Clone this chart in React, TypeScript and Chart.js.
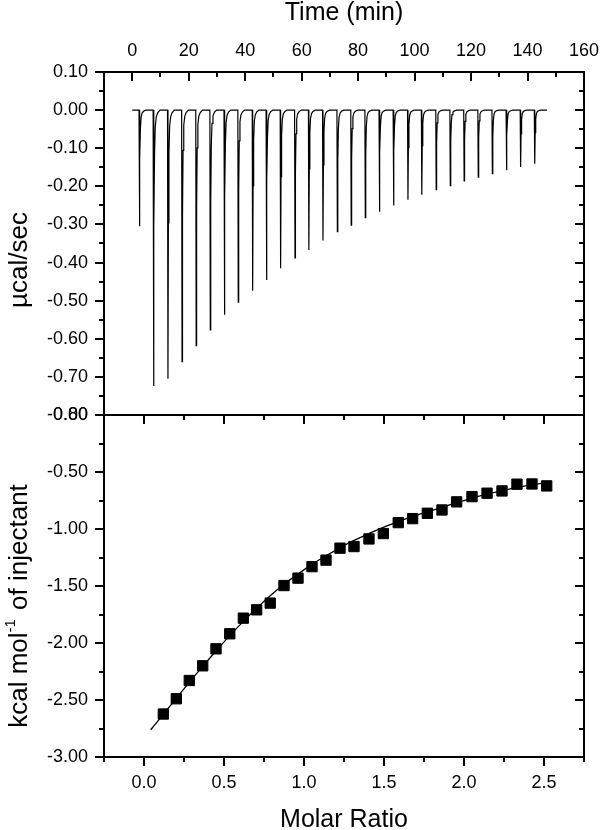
import React, { useEffect, useRef } from "react";
import { Chart, registerables } from "chart.js";

Chart.register(...registerables);

// ---------- Top panel: raw ITC thermogram ----------
const injectionTimes = [
  2.4, 7.4, 12.5, 17.5, 22.5, 27.5, 32.5, 37.4, 42.5, 47.4, 52.4, 57.5, 62.4, 67.4, 72.5,
  77.4, 82.4, 87.4, 92.4, 97.5, 102.4, 107.5, 112.5, 117.4, 122.4, 127.4, 132.4, 137.4, 142.4,
];
const peakHeights = [
  -0.305, -0.724, -0.705, -0.66, -0.618, -0.577, -0.537, -0.504, -0.474, -0.446, -0.415,
  -0.388, -0.367, -0.342, -0.319, -0.302, -0.282, -0.267, -0.25, -0.235, -0.222, -0.209,
  -0.198, -0.186, -0.176, -0.167, -0.158, -0.149, -0.141,
];
// shape of a single injection peak (minutes after injection, fraction of depth)
const peakOffsets = [0, 0.15, 0.3, 0.5, 0.75, 1.1, 1.6, 2.4];
const peakShape = [0, 1, 0.42, 0.16, 0.06, 0.025, 0.01, 0];
const traceStart = 0;
const traceEnd = 146.9;

// ---------- Bottom panel: integrated heats ----------
const molarRatio = [
  0.121, 0.202, 0.283, 0.367, 0.45, 0.536, 0.621, 0.704, 0.789, 0.875, 0.9625, 1.05, 1.1375,
  1.225, 1.3125, 1.406, 1.496, 1.589, 1.679, 1.771, 1.8625, 1.954, 2.05, 2.144, 2.2375, 2.331,
  2.425, 2.517,
];
const heatPerInjection = [
  -2.623, -2.489, -2.329, -2.2, -2.051, -1.919, -1.782, -1.709, -1.65, -1.496, -1.431, -1.33,
  -1.273, -1.168, -1.154, -1.087, -1.04, -0.944, -0.909, -0.862, -0.833, -0.762, -0.716,
  -0.686, -0.666, -0.607, -0.605, -0.622,
];
const fitRatio = [
  0.042, 0.121, 0.202, 0.283, 0.367, 0.45, 0.536, 0.621, 0.704, 0.789, 0.875, 0.9625, 1.05,
  1.1375, 1.225, 1.3125, 1.406, 1.496, 1.589, 1.679, 1.771, 1.8625, 1.954, 2.05, 2.144, 2.2375,
  2.331, 2.425, 2.517,
];
const fitHeat = [
  -2.761, -2.625, -2.485, -2.345, -2.205, -2.07, -1.935, -1.81, -1.695, -1.585, -1.485, -1.395,
  -1.31, -1.235, -1.165, -1.1, -1.04, -0.985, -0.935, -0.89, -0.85, -0.81, -0.768, -0.73,
  -0.695, -0.665, -0.635, -0.612, -0.595,
];

// ---------- Ticks ----------
const timeTicks = [0, 20, 40, 60, 80, 100, 120, 140, 160];
const timeTickLabels = ["0", "20", "40", "60", "80", "100", "120", "140", "160"];
const timeMinorTicks = [10, 30, 50, 70, 90, 110, 130, 150];
const rawTicks = [0.1, 0, -0.1, -0.2, -0.3, -0.4, -0.5, -0.6, -0.7, -0.8];
const rawTickLabels = ["0.10", "0.00", "-0.10", "-0.20", "-0.30", "-0.40", "-0.50", "-0.60", "-0.70", "-0.80"];
const rawMinorTicks = [0.05, -0.05, -0.15, -0.25, -0.35, -0.45, -0.55, -0.65, -0.75];
const ratioTicks = [0, 0.5, 1, 1.5, 2, 2.5];
const ratioTickLabels = ["0.0", "0.5", "1.0", "1.5", "2.0", "2.5"];
const ratioMinorTicks = [-0.25, 0.25, 0.75, 1.25, 1.75, 2.25, 2.75];
const heatTicks = [0, -0.5, -1, -1.5, -2, -2.5, -3];
const heatTickLabels = ["0.00", "-0.50", "-1.00", "-1.50", "-2.00", "-2.50", "-3.00"];
const heatMinorTicks = [-0.25, -0.75, -1.25, -1.75, -2.25, -2.75];

const W = 600;
const H = 830;
const AREA_LEFT = 104;
const AREA_RIGHT = 584;
const AREA_TOP = 72;
const AREA_MID = 415;
const AREA_BOTTOM = 757;
const TICK_FONT = "18px 'Liberation Sans', Arial, sans-serif";
const TITLE_FONT = "25px 'Liberation Sans', Arial, sans-serif";
const YTITLE_FONT = "26px 'Liberation Sans', Arial, sans-serif";
const MAJOR = 9;
const MINOR = 5;

function buildTrace() {
  const pts: { x: number; y: number }[] = [{ x: traceStart, y: 0 }];
  injectionTimes.forEach((t, i) => {
    peakOffsets.forEach((o, k) => {
      pts.push({ x: t + o, y: peakHeights[i] * peakShape[k] });
    });
  });
  pts.push({ x: traceEnd, y: 0 });
  return pts;
}

function ticksX(ctx: CanvasRenderingContext2D, scale: any, vals: number[], y: number, len: number) {
  ctx.beginPath();
  vals.forEach((v) => {
    const x = Math.round(scale.getPixelForValue(v));
    ctx.moveTo(x, y);
    ctx.lineTo(x, y + len);
  });
  ctx.stroke();
}
function ticksY(ctx: CanvasRenderingContext2D, scale: any, vals: number[], x: number, len: number) {
  ctx.beginPath();
  vals.forEach((v) => {
    const y = Math.round(scale.getPixelForValue(v));
    ctx.moveTo(x, y);
    ctx.lineTo(x + len, y);
  });
  ctx.stroke();
}

const topPlugin = {
  id: "topFrame",
  afterDraw(chart: any) {
    const ctx: CanvasRenderingContext2D = chart.ctx;
    const a = chart.chartArea;
    const xs = chart.scales.x;
    const ys = chart.scales.y;
    ctx.save();
    ctx.strokeStyle = "#000";
    ctx.lineWidth = 2;
    ctx.lineCap = "butt";
    ctx.strokeRect(a.left, a.top, a.right - a.left, a.bottom - a.top);
    ticksX(ctx, xs, timeTicks, a.top, MAJOR);
    ticksX(ctx, xs, timeMinorTicks, a.top, MINOR);
    ticksY(ctx, ys, rawTicks, a.left, -MAJOR);
    ticksY(ctx, ys, rawMinorTicks, a.left, -MINOR);
    ticksY(ctx, ys, rawTicks, a.right, -MAJOR);
    ticksY(ctx, ys, rawMinorTicks, a.right, -MINOR);

    ctx.fillStyle = "#000";
    ctx.font = TICK_FONT;
    ctx.textAlign = "center";
    ctx.textBaseline = "middle";
    timeTicks.forEach((v, i) => ctx.fillText(timeTickLabels[i], xs.getPixelForValue(v), 51));
    ctx.textAlign = "right";
    rawTicks.forEach((v, i) => ctx.fillText(rawTickLabels[i], 88, ys.getPixelForValue(v)));

    ctx.font = TITLE_FONT;
    ctx.textAlign = "center";
    ctx.fillText("Time (min)", (a.left + a.right) / 2, 13);
    ctx.font = YTITLE_FONT;
    ctx.translate(20, 260);
    ctx.rotate(-Math.PI / 2);
    ctx.fillText("µcal/sec", 0, 0);
    ctx.restore();
  },
};

const bottomPlugin = {
  id: "bottomFrame",
  afterDraw(chart: any) {
    const ctx: CanvasRenderingContext2D = chart.ctx;
    const a = chart.chartArea;
    const xs = chart.scales.x;
    const ys = chart.scales.y;
    ctx.save();
    ctx.strokeStyle = "#000";
    ctx.lineWidth = 2;
    ctx.strokeRect(a.left, a.top, a.right - a.left, a.bottom - a.top);
    ticksX(ctx, xs, ratioTicks, a.top, MAJOR);
    ticksX(ctx, xs, ratioMinorTicks, a.top, MINOR);
    ticksX(ctx, xs, ratioTicks, a.bottom, MAJOR);
    ticksX(ctx, xs, ratioMinorTicks, a.bottom, MINOR);
    ticksY(ctx, ys, heatTicks, a.left, -MAJOR);
    ticksY(ctx, ys, heatMinorTicks, a.left, -MINOR);
    ticksY(ctx, ys, heatTicks, a.right, -MAJOR);
    ticksY(ctx, ys, heatMinorTicks, a.right, -MINOR);

    ctx.fillStyle = "#000";
    ctx.font = TICK_FONT;
    ctx.textAlign = "center";
    ctx.textBaseline = "middle";
    ratioTicks.forEach((v, i) => ctx.fillText(ratioTickLabels[i], xs.getPixelForValue(v), 783));
    ctx.textAlign = "right";
    heatTicks.forEach((v, i) => ctx.fillText(heatTickLabels[i], 88, ys.getPixelForValue(v)));

    ctx.font = TITLE_FONT;
    ctx.textAlign = "center";
    ctx.fillText("Molar Ratio", (a.left + a.right) / 2, 820);

    // rotated y title with superscript
    const part1 = "kcal mol";
    const sup = "-1";
    const part2 = " of injectant";
    const supFont = "15px 'Liberation Sans', Arial, sans-serif";
    ctx.font = YTITLE_FONT;
    const w1 = ctx.measureText(part1).width;
    const w3 = ctx.measureText(part2).width;
    ctx.font = supFont;
    const w2 = ctx.measureText(sup).width + 2;
    const total = w1 + w2 + w3;
    ctx.translate(20, 606);
    ctx.rotate(-Math.PI / 2);
    ctx.textAlign = "left";
    let x = -total / 2;
    ctx.font = YTITLE_FONT;
    ctx.fillText(part1, x, 0);
    x += w1;
    ctx.font = supFont;
    ctx.fillText(sup, x, -9);
    x += w2;
    ctx.font = YTITLE_FONT;
    ctx.fillText(part2, x, 0);
    ctx.restore();
  },
};

export default function App() {
  const topRef = useRef<HTMLCanvasElement>(null);
  const botRef = useRef<HTMLCanvasElement>(null);

  useEffect(() => {
    const trace = buildTrace();
    const top = new Chart(topRef.current!, {
      type: "line",
      data: {
        datasets: [
          {
            data: trace,
            borderColor: "#000",
            borderWidth: 1.2,
            pointRadius: 0,
            tension: 0,
            fill: false,
          },
        ],
      },
      options: {
        animation: false,
        responsive: false,
        events: [],
        layout: { padding: { left: AREA_LEFT, right: W - AREA_RIGHT, top: AREA_TOP, bottom: H - AREA_MID } },
        plugins: { legend: { display: false }, tooltip: { enabled: false } },
        scales: {
          x: { type: "linear", min: -10, max: 160, display: false },
          y: { type: "linear", min: -0.8, max: 0.1, display: false },
        },
      },
      plugins: [topPlugin],
    });

    const points = molarRatio.map((x, i) => ({ x, y: heatPerInjection[i] }));
    const fit = fitRatio.map((x, i) => ({ x, y: fitHeat[i] }));
    const bottom = new Chart(botRef.current!, {
      type: "line",
      data: {
        datasets: [
          {
            data: points,
            showLine: false,
            pointStyle: "rect",
            pointRadius: 7.3,
            pointBackgroundColor: "#000",
            pointBorderColor: "#000",
            pointBorderWidth: 1,
          },
          {
            data: fit,
            borderColor: "#000",
            borderWidth: 1.3,
            pointRadius: 0,
            tension: 0.3,
            cubicInterpolationMode: "monotone",
            fill: false,
          },
        ],
      },
      options: {
        animation: false,
        responsive: false,
        events: [],
        layout: { padding: { left: AREA_LEFT, right: W - AREA_RIGHT, top: AREA_MID, bottom: H - AREA_BOTTOM } },
        plugins: { legend: { display: false }, tooltip: { enabled: false } },
        scales: {
          x: { type: "linear", min: -0.25, max: 2.75, display: false },
          y: { type: "linear", min: -3, max: 0, display: false },
        },
      },
      plugins: [bottomPlugin],
    });

    return () => {
      top.destroy();
      bottom.destroy();
    };
  }, []);

  return (
    <div style={{ position: "fixed", left: 0, top: 0, width: W, height: H, background: "#fff" }}>
      <canvas ref={topRef} width={W} height={H} style={{ position: "absolute", left: 0, top: 0 }} />
      <canvas ref={botRef} width={W} height={H} style={{ position: "absolute", left: 0, top: 0 }} />
    </div>
  );
}
